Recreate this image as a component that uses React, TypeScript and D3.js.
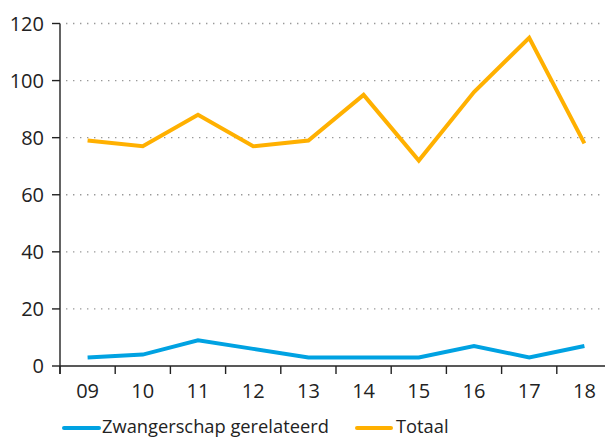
import React from "react";
import * as d3 from "d3";

const years = ["09", "10", "11", "12", "13", "14", "15", "16", "17", "18"];
const zwangerschap = [3, 4, 9, 6, 3, 3, 3, 7, 3, 7];
const totaal = [79, 77, 88, 77, 79, 95, 72, 96, 115, 78];
const yTicks = [0, 20, 40, 60, 80, 100, 120];

const W = 605;
const H = 437;
const left = 60;
const top = 23.5;
const bottom = 366;
const step = 55.2;

const BLUE = "#00a2e2";
const ORANGE = "#ffb000";
const FONT = "'Open Sans', sans-serif";

export default function App() {
  const x = d3.scaleBand<string>().domain(years).range([left, left + step * years.length]).paddingInner(0).paddingOuter(0);
  const y = d3.scaleLinear().domain([0, 120]).range([bottom, top]);
  const cx = (d: string) => (x(d) as number) + x.bandwidth() / 2;
  const line = d3
    .line<number>()
    .x((_, i) => cx(years[i]))
    .y((v) => y(v));

  const boundaries = years.map((d) => x(d) as number).concat([left + step * years.length]);

  return (
    <svg width={W} height={H} style={{ position: "absolute", left: 0, top: 0 }}>
      <rect width={W} height={H} fill="#fff" />
      {yTicks.filter((t) => t > 0).map((t) => (
        <line key={"g" + t} x1={66} x2={W} y1={y(t)} y2={y(t)} stroke="#999" strokeWidth={1.4} strokeDasharray="1.4,5.6" />
      ))}
      {yTicks.map((t) => (
        <g key={"y" + t}>
          <line x1={52} x2={left} y1={y(t)} y2={y(t)} stroke="#222" strokeWidth={1.4} />
          <text x={44} y={y(t) + 7} textAnchor="end" fontFamily={FONT} fontSize={20} fill="#222">
            {t}
          </text>
        </g>
      ))}
      <line x1={left} x2={left} y1={top} y2={bottom + 8} stroke="#222" strokeWidth={1.4} />
      <line x1={left} x2={W} y1={bottom} y2={bottom} stroke="#222" strokeWidth={1.4} />
      {boundaries.map((b, i) => (
        <line key={"xt" + i} x1={b} x2={b} y1={bottom} y2={bottom + 8} stroke="#222" strokeWidth={1.4} />
      ))}
      {years.map((d) => (
        <text key={"xl" + d} x={cx(d)} y={398} textAnchor="middle" fontFamily={FONT} fontSize={20} fill="#222">
          {d}
        </text>
      ))}
      <path d={line(zwangerschap) || ""} fill="none" stroke={BLUE} strokeWidth={4} strokeLinejoin="miter" />
      <path d={line(totaal) || ""} fill="none" stroke={ORANGE} strokeWidth={4} strokeLinejoin="miter" />
      <g>
        <line x1={64} x2={99} y1={428} y2={428} stroke={BLUE} strokeWidth={4} strokeLinecap="round" />
        <text x={102} y={433} fontFamily={FONT} fontSize={18.3} fill="#222">
          Zwangerschap gerelateerd
        </text>
        <line x1={357} x2={391} y1={428} y2={428} stroke={ORANGE} strokeWidth={4} strokeLinecap="round" />
        <text x={396} y={433} fontFamily={FONT} fontSize={18.3} fill="#222">
          Totaal
        </text>
      </g>
    </svg>
  );
}
